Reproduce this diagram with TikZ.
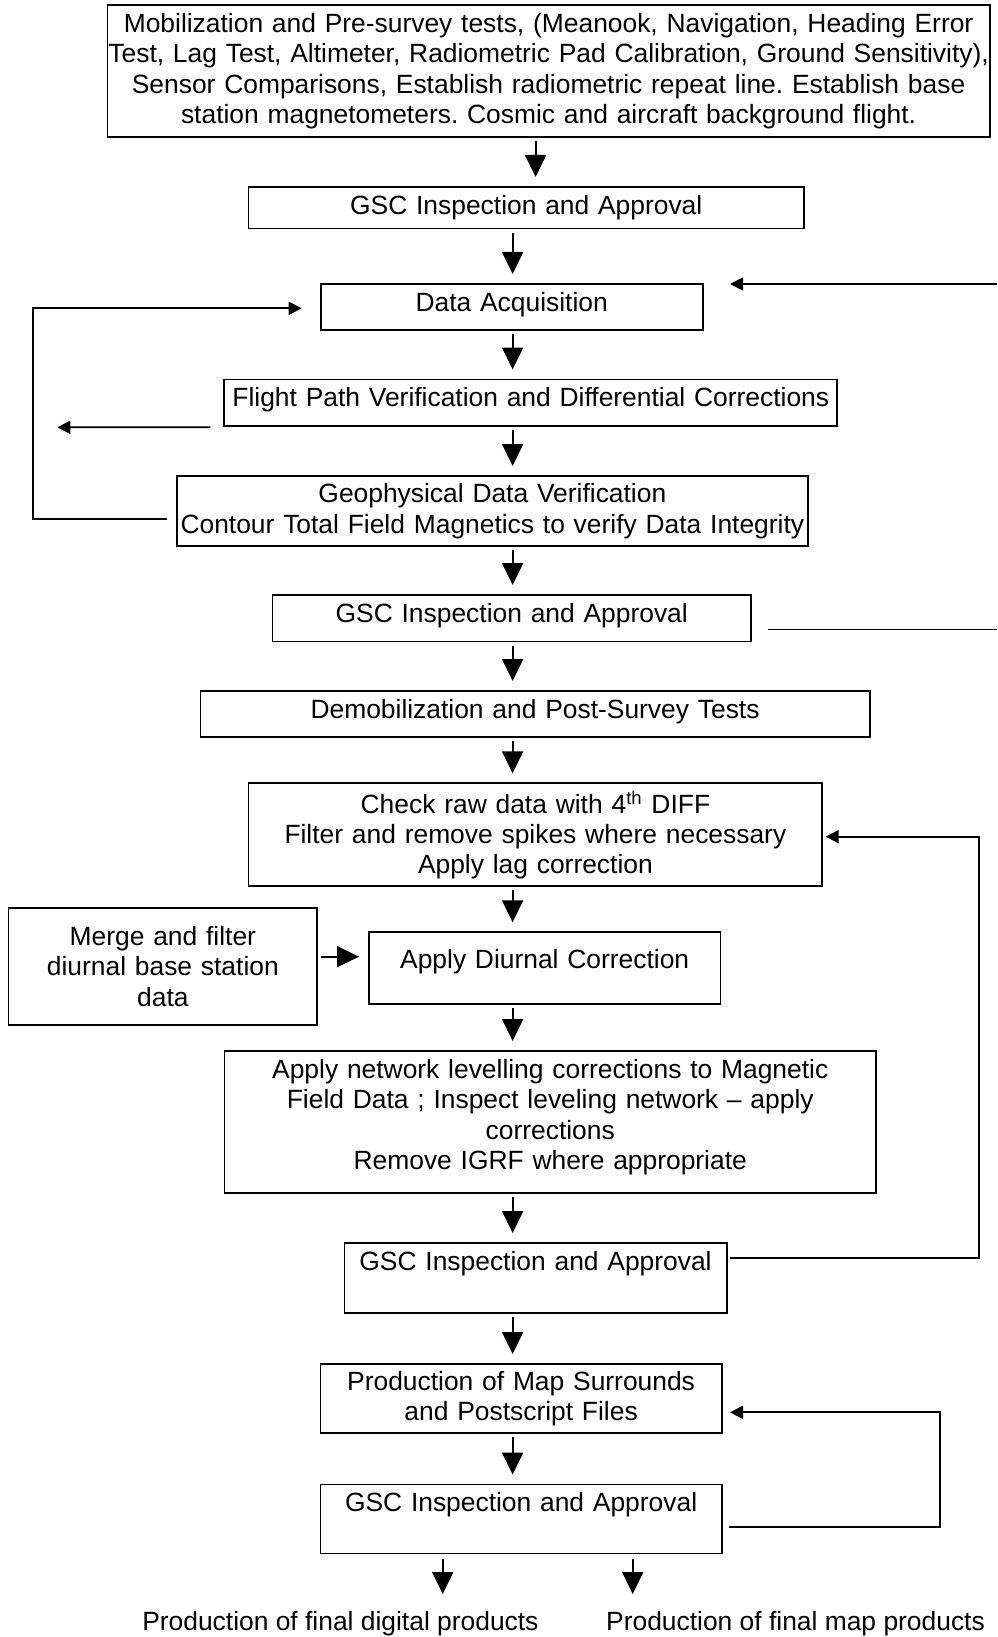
\documentclass[tikz,border=0pt]{standalone}
\usepackage{fontspec}
\setmainfont{Liberation Sans}
\usetikzlibrary{arrows.meta}
\newcommand\lowdepth[1]{\rule[-#1]{0pt}{#1}}
\frenchspacing
\begin{document}
\begin{tikzpicture}[x=0.5pt,y=-0.5pt,
  every node/.style={font=\fontsize{13.2pt}{15.2pt}\selectfont\frenchspacing},
  box/.style={draw, line width=0.9pt, rectangle, outer sep=0pt, inner xsep=0pt, align=center},
  onebox/.style={box, inner ysep=0pt, text height=13.5pt},
  flow/.style={line width=0.9pt, -{Triangle[length=11pt,width=10.5pt]}, shorten <=2pt, shorten >=5pt},
  fbarrow/.style={line width=0.9pt, -{Triangle[length=6.5pt,width=6.5pt]}},
  plainline/.style={line width=0.9pt}]
\fill[white] (0,0) rectangle (997,1637);
\useasboundingbox (0,0) rectangle (997,1637);

% boxes
\node[box, text width=441.1pt, minimum height=66pt] (mob) at (548.6,71) {Mobilization and Pre-survey tests, (Meanook, Navigation, Heading Error\\ Test, Lag Test, Altimeter, Radiometric Pad Calibration, Ground Sensitivity),\\ Sensor Comparisons, Establish radiometric repeat line. Establish base\\ station magnetometers. Cosmic and aircraft background flight.};
\node[onebox, text width=277.75pt, text depth=7.3pt] (gsc1) at (526.25,207.8) {GSC Inspection and Approval};
\node[onebox, text width=191pt, text depth=9.5pt] (da) at (511.7,307) {Data Acquisition};
\node[onebox, text width=306.5pt, text depth=9.6pt] (fp) at (530.8,402.6) {Flight Path Verification and Differential Corrections};
\node[box, text width=315.65pt, minimum height=35pt] (gdv) at (492.35,511) {Geophysical Data Verification\\ Contour Total Field Magnetics to verify Data Integrity};
\node[onebox, text width=239.25pt, text depth=9.75pt] (gsc2) at (511.75,618.25) {GSC Inspection and Approval};
\node[onebox, text width=334.65pt, text depth=9.5pt] (demob) at (535.05,714) {Demobilization and Post-Survey Tests};
\node[box, text width=286.9pt, minimum height=46.35pt] (check) at (535.4,834.65) {\rule{0pt}{11.5pt}Check raw data with 4\textsuperscript{th} DIFF\\ Filter and remove spikes where necessary\\ Apply lag correction};
\node[box, text width=154.45pt, minimum height=58.5pt] (merge) at (162.85,966.5) {Merge and filter\\ diurnal base station\\ data};
\node[onebox, text width=175.7pt, text height=18pt, text depth=17.85pt] (diur) at (544.7,968.15) {Apply Diurnal Correction};
\node[box, text width=325.75pt, minimum height=71pt] (net) at (550.25,1122) {Apply network levelling corrections to Magnetic\\ Field Data ; Inspect leveling network – apply\\ corrections\\ Remove IGRF where appropriate\lowdepth{7.5pt}};
\node[onebox, text width=191.05pt, text depth=21.5pt] (gsc3) at (535.55,1278) {GSC Inspection and Approval};
\node[box, text width=200.6pt, minimum height=34.65pt] (pm) at (521.1,1398.65) {Production of Map Surrounds\\ and Postscript Files};
\node[onebox, text width=200.6pt, text depth=20.95pt] (gsc4) at (521.1,1518.95) {GSC Inspection and Approval};

\node[anchor=base] (out1) at (340.4,1630) {Production of final digital products};
\node[anchor=base] (out2) at (795.5,1630) {Production of final map products};

% main flow
\coordinate (cx1) at (535.6,0);
\coordinate (cx) at (512.6,0);
\coordinate (my) at (0,956.7);
\draw[flow] (mob.south -| cx1) -- (gsc1.north -| cx1);
\draw[flow] (gsc1.south -| cx) -- (da.north -| cx);
\draw[flow] (da.south -| cx) -- (fp.north -| cx);
\draw[flow] (fp.south -| cx) -- (gdv.north -| cx);
\draw[flow] (gdv.south -| cx) -- (gsc2.north -| cx);
\draw[flow] (gsc2.south -| cx) -- (demob.north -| cx);
\draw[flow] (demob.south -| cx) -- (check.north -| cx);
\draw[flow] (check.south -| cx) -- (diur.north -| cx);
\draw[flow] (merge.east |- my) -- (diur.west |- my);
\draw[flow] (diur.south -| cx) -- (net.north -| cx);
\draw[flow] (net.south -| cx) -- (gsc3.north -| cx);
\draw[flow] (gsc3.south -| cx) -- (pm.north -| cx);
\draw[flow] (pm.south -| cx) -- (gsc4.north -| cx);

\coordinate (o1) at (442.7,1594);
\coordinate (o2) at (632.7,1594);
\draw[flow, shorten >=0pt, shorten <=2.65pt] (gsc4.south -| o1) -- (o1);
\draw[flow, shorten >=0pt, shorten <=2.65pt] (gsc4.south -| o2) -- (o2);

% feedback lines
\coordinate (rin) at (997,284);
\draw[fbarrow] (rin) -- ([xshift=13.65pt]da.north east);

\coordinate (lx) at (32.7,0);
\coordinate (s1) at ([shift={(-10,8)}]gdv.west);
\coordinate (t1) at ([shift={(-19,1.3)}]da.west);
\draw[fbarrow] (s1) -| (t1 -| lx) -- (t1);

\coordinate (fpl) at (57.3,427.3);
\draw[fbarrow] ([shift={(-14,1.6)}]fp.south west) -- (fpl);

\coordinate (g2r) at (997,629.5);
\draw[plainline] ([shift={(16.5,11.25)}]gsc2.east) -- (g2r);

\coordinate (rx1) at (979,0);
\coordinate (s2) at ([shift={(3.2,-19.7)}]gsc3.east);
\coordinate (t2) at ([shift={(3.4,2)}]check.east);
\draw[fbarrow] (s2) -| (t2 -| rx1) -- (t2);

\coordinate (rx2) at (940,0);
\coordinate (s3) at ([shift={(7.6,7.75)}]gsc4.east);
\coordinate (t3) at ([shift={(8.3,13.65)}]pm.east);
\draw[fbarrow] (s3) -| (t3 -| rx2) -- (t3);
\end{tikzpicture}
\end{document}
